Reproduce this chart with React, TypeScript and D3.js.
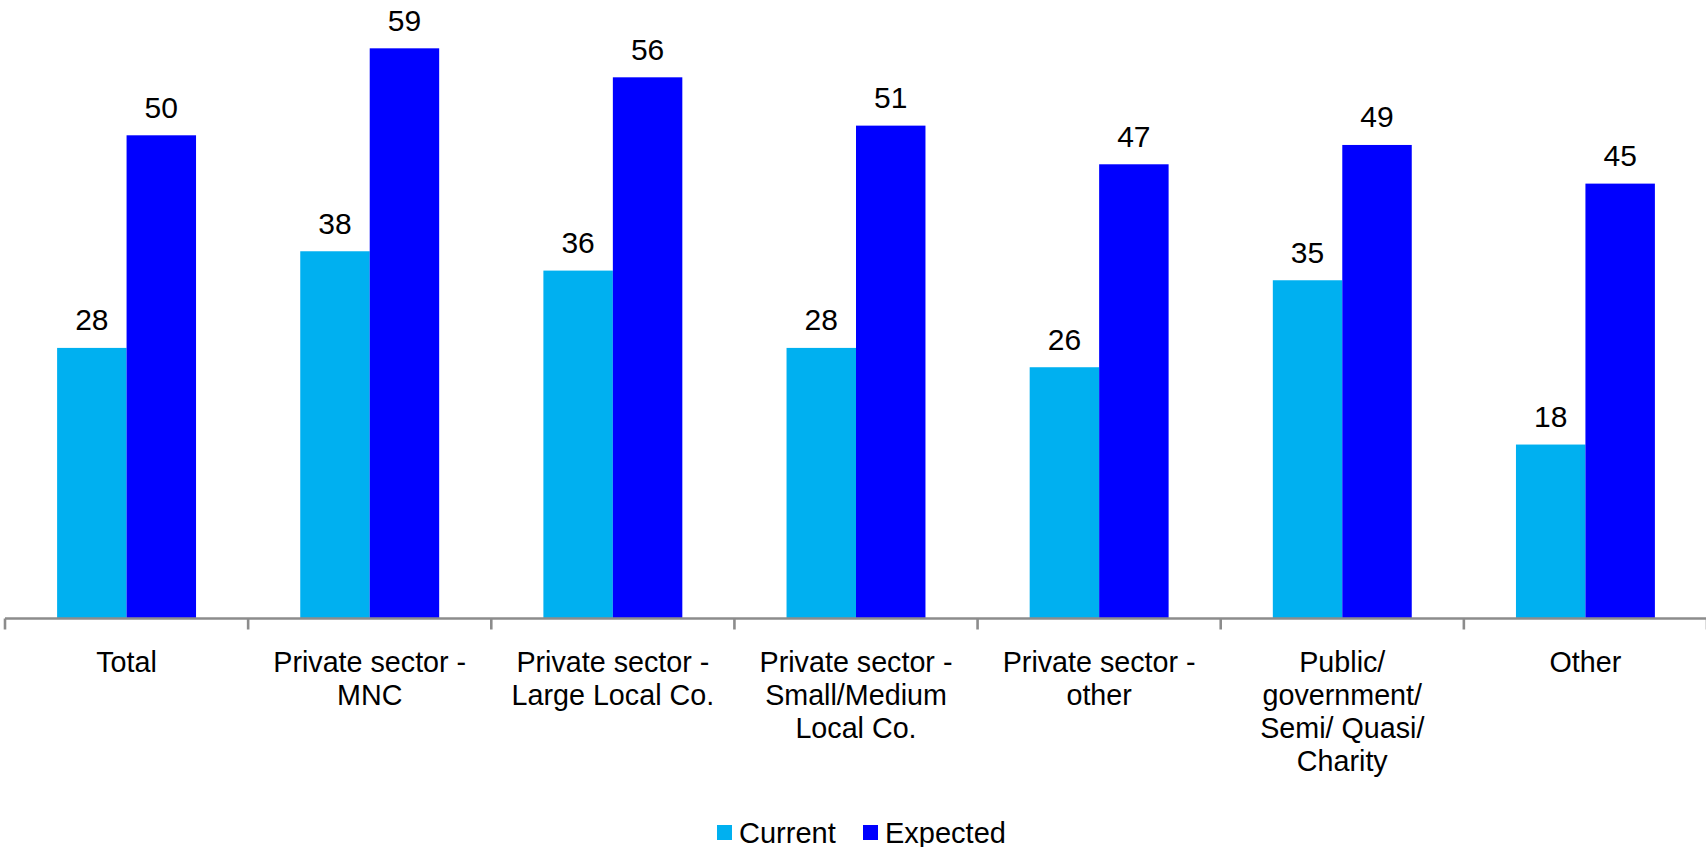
import React from "react";
import * as d3 from "d3";

const categories: string[][] = [
  ["Total"],
  ["Private sector -", "MNC"],
  ["Private sector -", "Large Local Co."],
  ["Private sector -", "Small/Medium", "Local Co."],
  ["Private sector -", "other"],
  ["Public/", "government/", "Semi/ Quasi/", "Charity"],
  ["Other"],
];
const seriesNames = ["Current", "Expected"];
const currentValues = [28, 38, 36, 28, 26, 35, 18];
const expectedValues = [50, 59, 56, 51, 47, 49, 45];
const colors = ["#00B0F0", "#0000FF"];

const W = 1706;
const H = 847;
const FONT = "'Liberation Sans', Arial, sans-serif";

export default function App() {
  const axisY = 618.5;
  const keys = categories.map((c) => c.join(" "));
  const x0 = d3.scaleBand<string>().domain(keys).range([5, 1707]).padding(0);
  const bw = x0.bandwidth();
  const x1 = d3
    .scaleBand<string>()
    .domain(seriesNames)
    .range([bw * 0.2143, bw * 0.7857])
    .padding(0);
  const y = d3.scaleLinear().domain([0, 64]).range([axisY, 0]);
  const series = [currentValues, expectedValues];

  const tickXs = [...keys.map((k) => x0(k) as number), 1707];

  return (
    <div style={{ position: "absolute", left: 0, top: 0 }}>
      <svg width={W} height={H} style={{ display: "block" }} fontFamily={FONT}>
        <rect x={0} y={0} width={W} height={H} fill="#fff" />
        {keys.map((k, i) => (
          <g key={k} transform={`translate(${x0(k)},0)`}>
            {seriesNames.map((s, j) => {
              const v = series[j][i];
              const bx = x1(s) as number;
              return (
                <g key={s}>
                  <rect
                    x={bx}
                    y={y(v)}
                    width={x1.bandwidth()}
                    height={axisY - y(v)}
                    fill={colors[j]}
                  />
                  <text
                    x={bx + x1.bandwidth() / 2}
                    y={y(v) - 17.5}
                    textAnchor="middle"
                    fontSize={30}
                    fill="#000"
                  >
                    {d3.format("d")(v)}
                  </text>
                </g>
              );
            })}
          </g>
        ))}
        <line x1={5} x2={W} y1={axisY} y2={axisY} stroke="#8C8C8C" strokeWidth={2.6} />
        {tickXs.map((tx, i) => (
          <line
            key={i}
            x1={tx}
            x2={tx}
            y1={axisY}
            y2={axisY + 11}
            stroke="#8C8C8C"
            strokeWidth={2.6}
          />
        ))}
        {keys.map((k, i) => (
          <text
            key={k}
            x={(x0(k) as number) + bw / 2}
            y={671.7}
            textAnchor="middle"
            fontSize={28.7}
            fill="#000"
          >
            {categories[i].map((line, li) => (
              <tspan key={li} x={(x0(k) as number) + bw / 2} dy={li === 0 ? 0 : 33}>
                {line}
              </tspan>
            ))}
          </text>
        ))}
        <g>
          <rect x={717} y={825} width={15} height={15} fill={colors[0]} />
          <text x={739} y={843} fontSize={29} fill="#000">
            {seriesNames[0]}
          </text>
          <rect x={863} y={825} width={15} height={15} fill={colors[1]} />
          <text x={885} y={843} fontSize={29} fill="#000">
            {seriesNames[1]}
          </text>
        </g>
      </svg>
    </div>
  );
}
